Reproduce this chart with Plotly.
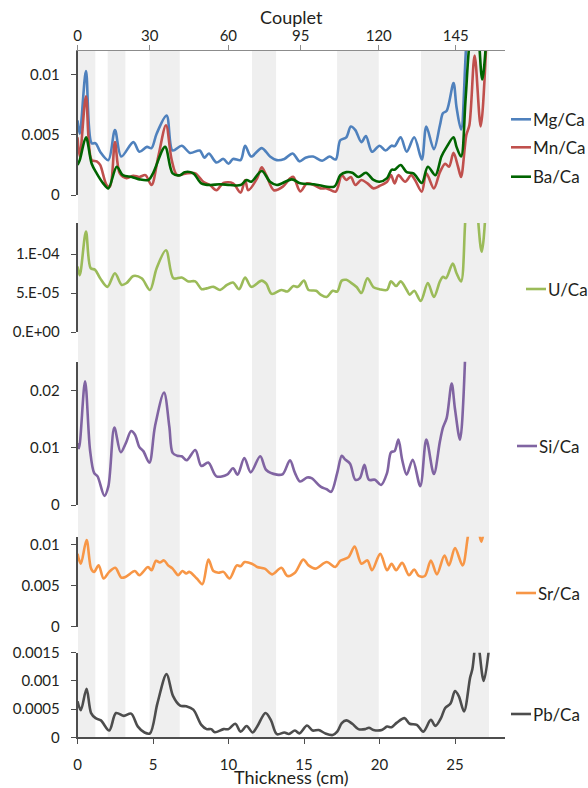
import numpy as np
import plotly.graph_objects as go

# ---------------- data (thickness in cm) ----------------
# Mg/Ca, Mn/Ca, Ba/Ca values in units of 1e-3
mg_x = [0.0, 0.15, 0.56, 0.94, 1.2, 1.5, 2.04, 2.48, 2.9, 3.7, 4.1, 4.6, 4.9, 5.24, 5.9, 6.3, 6.9, 7.45, 8.1, 8.4, 8.7, 9.2, 9.66, 10.0, 10.3, 10.8, 11.1, 11.5, 12.2, 12.75, 13.2, 13.7, 14.25, 14.7, 15.1, 15.6, 16.2, 16.7, 17.1, 17.4, 17.8, 18.1, 18.4, 18.8, 19.1, 19.5, 20.0, 20.4, 20.8, 21.0, 21.4, 21.8, 22.3, 22.8, 23.1, 23.6, 24.0, 24.2, 24.45, 24.9, 25.1, 25.4, 25.77, 26.2, 26.8, 27.1]
mg_y = [6.2, 5.1, 10.3, 4.3, 4.3, 3.6, 2.9, 5.4, 3.2, 4.4, 3.6, 4.0, 3.9, 5.1, 6.6, 3.7, 4.1, 3.5, 3.7, 3.1, 3.45, 2.7, 3.0, 2.6, 3.0, 2.9, 4.1, 3.2, 3.9, 3.2, 2.9, 3.0, 3.45, 2.8, 3.1, 3.2, 2.85, 3.2, 2.95, 4.55, 4.8, 5.7, 5.4, 4.4, 4.9, 3.6, 4.1, 3.7, 4.1, 4.06, 4.8, 3.6, 4.8, 2.95, 5.7, 3.8, 5.8, 6.8, 7.0, 9.3, 7.3, 5.45, 13.0, 18.0, 16.0, 20.0]

mn_x = [0.0, 0.15, 0.56, 0.94, 1.27, 1.5, 1.93, 2.15, 2.48, 2.8, 3.25, 3.7, 4.1, 4.5, 4.9, 5.35, 5.86, 6.24, 6.6, 7.2, 7.8, 8.33, 8.77, 9.2, 9.66, 10.3, 10.8, 11.1, 11.3, 11.9, 12.2, 12.5, 13.0, 13.6, 14.1, 14.3, 14.75, 15.2, 15.65, 16.1, 16.5, 17.1, 17.5, 17.8, 18.1, 18.4, 18.8, 19.2, 19.6, 20.0, 20.5, 20.76, 21.0, 21.25, 21.7, 22.1, 22.35, 22.8, 23.1, 23.6, 24.0, 24.35, 24.6, 24.9, 25.2, 25.4, 25.75, 25.95, 26.3, 26.7, 27.1]
mn_y = [4.8, 3.2, 8.2, 2.9, 2.8, 2.5, 0.83, 0.7, 4.4, 1.8, 1.4, 1.6, 1.5, 1.65, 0.83, 3.2, 5.8, 2.9, 1.65, 1.8, 1.8, 1.1, 0.83, 0.4, 1.0, 0.97, 0.2, 1.25, 0.4, 1.4, 2.3, 1.65, 0.4, 0.7, 1.4, 1.5, 0.3, 0.97, 0.83, 0.55, 0.55, 0.28, 1.65, 1.25, 1.5, 0.83, 1.25, 0.97, 0.55, 0.75, 1.1, 1.65, 0.97, 1.65, 1.1, 1.65, 1.25, 0.28, 1.8, 0.55, 1.9, 2.6, 2.35, 3.5, 2.35, 1.5, 5.0, 5.8, 11.6, 5.7, 13.5]

ba_x = [0.0, 0.15, 0.56, 0.94, 1.27, 1.7, 2.04, 2.6, 3.0, 3.6, 4.1, 4.7, 5.0, 5.8, 6.3, 6.8, 7.1, 7.67, 8.2, 8.8, 9.4, 10.1, 10.8, 11.2, 11.5, 12.2, 12.75, 13.2, 14.2, 14.75, 15.65, 17.0, 17.4, 17.8, 18.2, 18.6, 19.1, 19.6, 20.0, 20.5, 20.8, 21.0, 21.4, 21.8, 22.25, 22.8, 23.2, 23.7, 24.1, 24.45, 24.9, 25.1, 25.4, 25.7, 26.0, 26.4, 26.8, 27.1]
ba_y = [2.5, 2.9, 4.8, 2.6, 1.8, 0.97, 0.55, 2.35, 1.65, 1.5, 1.3, 1.25, 1.8, 4.0, 1.8, 1.65, 1.9, 1.8, 0.97, 0.83, 0.9, 0.83, 0.83, 1.25, 1.1, 2.0, 1.1, 0.83, 1.3, 0.97, 0.9, 0.7, 1.65, 1.9, 1.85, 1.5, 1.85, 1.25, 1.1, 1.4, 2.1, 2.1, 2.5, 1.9, 1.8, 1.0, 2.35, 1.65, 3.2, 4.0, 4.8, 4.0, 3.2, 8.0, 13.0, 15.0, 9.6, 13.5]

# U/Ca values in units of 1e-5
u_x = [0.0, 0.15, 0.56, 0.87, 1.16, 1.5, 1.98, 2.48, 2.93, 3.26, 3.7, 4.25, 4.8, 5.24, 5.86, 6.35, 6.9, 7.34, 7.8, 8.22, 8.55, 9.0, 9.44, 9.9, 10.3, 10.7, 11.1, 11.5, 12.2, 12.5, 12.86, 13.5, 13.9, 14.3, 14.6, 15.0, 15.3, 15.8, 16.1, 16.5, 16.9, 17.2, 17.5, 17.8, 18.1, 18.5, 18.8, 19.2, 19.6, 20.0, 20.5, 20.76, 21.1, 21.4, 21.8, 22.0, 22.3, 22.73, 23.2, 23.6, 24.0, 24.2, 24.4, 24.85, 25.1, 25.4, 25.75, 26.2, 26.76, 27.1]
u_y = [8.4, 7.3, 12.9, 8.2, 8.0, 6.9, 5.8, 7.55, 6.05, 6.3, 7.2, 6.9, 5.4, 8.2, 10.5, 6.9, 7.0, 6.5, 6.5, 5.5, 5.6, 5.8, 5.4, 6.05, 6.35, 5.5, 7.0, 5.8, 6.6, 6.2, 4.9, 5.4, 5.2, 5.9, 5.8, 6.6, 5.4, 5.3, 4.8, 4.5, 5.3, 5.2, 6.6, 6.7, 6.35, 5.75, 5.0, 6.9, 5.75, 5.5, 5.4, 6.5, 5.9, 6.5, 5.4, 4.8, 5.3, 4.0, 6.3, 4.5, 6.5, 7.1, 6.9, 8.8, 7.55, 6.5, 16.0, 20.0, 10.3, 18.0]

# Si/Ca values in units of 1e-3
si_x = [0.0, 0.1, 0.5, 0.83, 1.1, 1.33, 1.78, 2.04, 2.44, 2.86, 3.2, 3.55, 3.8, 4.1, 4.36, 4.76, 5.13, 5.73, 6.08, 6.3, 6.6, 6.9, 7.23, 7.8, 8.2, 8.66, 9.2, 9.9, 10.3, 10.6, 11.05, 11.47, 12.1, 12.5, 13.2, 13.6, 14.07, 14.4, 14.74, 15.2, 15.5, 16.1, 16.5, 16.8, 17.2, 17.5, 17.7, 18.05, 18.4, 18.7, 19.0, 19.3, 19.7, 20.1, 20.5, 20.76, 21.0, 21.25, 21.5, 21.8, 22.2, 22.7, 23.1, 23.6, 24.0, 24.2, 24.45, 24.78, 25.0, 25.33, 25.66]
si_y = [10.8, 9.9, 21.6, 9.6, 5.6, 5.0, 1.6, 3.2, 13.5, 9.2, 10.8, 12.9, 12.3, 10.1, 9.4, 7.4, 13.7, 19.6, 13.7, 9.1, 8.6, 8.5, 7.8, 9.6, 6.8, 7.4, 5.0, 5.3, 6.4, 5.3, 8.2, 5.7, 8.5, 6.1, 5.3, 5.4, 7.8, 5.6, 4.1, 4.8, 4.7, 3.2, 2.75, 2.3, 5.6, 8.6, 8.0, 7.2, 4.4, 4.7, 7.0, 4.4, 4.4, 3.5, 5.6, 9.2, 9.4, 11.4, 7.9, 5.3, 7.9, 3.3, 11.4, 5.4, 11.1, 13.5, 15.2, 21.2, 16.7, 11.4, 25.1]

# Sr/Ca values in units of 1e-3
sr_x = [0.0, 0.22, 0.6, 0.9, 1.1, 1.4, 1.73, 2.1, 2.5, 2.9, 3.2, 3.8, 4.1, 4.67, 4.9, 5.2, 5.45, 5.73, 6.0, 6.3, 6.67, 6.95, 7.2, 7.4, 7.9, 8.27, 8.67, 9.0, 9.33, 9.67, 10.07, 10.55, 10.8, 11.07, 11.55, 11.9, 12.4, 12.9, 13.5, 13.9, 14.4, 14.95, 15.3, 15.75, 16.5, 17.07, 17.4, 17.95, 18.35, 18.8, 19.2, 19.5, 20.05, 20.5, 20.8, 21.1, 21.5, 21.95, 22.3, 22.6, 23.0, 23.4, 23.8, 24.3, 24.6, 25.0, 25.5, 25.9, 26.3, 26.75, 27.0]
sr_y = [8.9, 7.7, 10.6, 7.1, 6.7, 7.5, 5.9, 6.7, 7.2, 6.0, 6.1, 6.8, 6.3, 7.3, 6.9, 8.05, 7.85, 8.1, 7.5, 7.1, 6.3, 6.8, 6.5, 6.7, 5.9, 5.2, 8.2, 6.8, 6.6, 6.7, 5.9, 7.5, 7.4, 7.9, 7.7, 7.3, 7.1, 6.4, 7.2, 6.2, 6.6, 8.2, 7.5, 7.1, 7.9, 7.3, 8.05, 8.5, 9.8, 7.7, 8.1, 6.9, 8.9, 6.9, 7.7, 6.9, 7.8, 6.3, 7.0, 6.2, 6.2, 8.1, 6.4, 8.7, 7.5, 9.6, 7.5, 11.5, 14.0, 10.4, 13.0]

# Pb/Ca values in units of 1e-4
pb_x = [0.0, 0.22, 0.6, 0.9, 1.2, 1.55, 2.1, 2.55, 3.07, 3.55, 4.0, 4.44, 4.8, 5.3, 5.9, 6.33, 6.8, 7.2, 7.67, 8.2, 8.55, 8.85, 9.1, 9.67, 10.0, 10.45, 10.8, 11.2, 11.6, 11.9, 12.45, 12.8, 13.2, 13.7, 14.0, 14.4, 14.7, 15.2, 15.57, 15.97, 16.4, 16.9, 17.2, 17.5, 17.8, 18.2, 18.6, 19.05, 19.3, 19.6, 20.15, 20.5, 20.8, 21.15, 21.65, 22.0, 22.47, 22.9, 23.4, 23.7, 24.07, 24.35, 24.7, 25.0, 25.25, 25.6, 26.0, 26.15, 26.45, 26.9, 27.3]
pb_y = [6.4, 4.8, 8.6, 4.3, 3.4, 3.0, 1.2, 4.3, 3.8, 4.2, 1.9, 0.85, 0.7, 6.1, 11.2, 7.3, 5.6, 5.5, 4.9, 2.2, 1.45, 1.45, 0.9, 1.45, 1.45, 2.4, 1.0, 2.0, 0.85, 1.9, 4.3, 3.1, 0.55, 0.85, 0.6, 1.2, 0.7, 2.1, 1.2, 1.3, 0.7, 0.4, 1.0, 2.5, 3.0, 2.4, 1.45, 1.45, 1.7, 1.3, 1.3, 1.9, 1.8, 2.6, 3.4, 2.4, 2.2, 1.0, 3.1, 2.0, 3.4, 5.2, 6.0, 8.2, 7.3, 4.6, 10.6, 12.1, 18.0, 10.0, 17.0]

# couplet (top axis) labels and their thickness positions
couplet_labels = ["0", "30", "60", "95", "120", "145"]
couplet_pos = [0.0, 4.78, 9.99, 14.78, 19.95, 25.05]

# shaded intervals (cm)
band_start = [0.03, 2.0, 4.78, 11.56, 17.19, 22.75]
band_end = [1.18, 3.17, 6.77, 13.15, 19.95, 27.25]

# y tick values/labels
p1_ticks = [0, 0.005, 0.01]
p1_text = ["0", "0.005", "0.01"]
p2_ticks = [0, 5e-5, 1e-4]
p2_text = ["0.E+00", "5.E-05", "1.E-04"]
p3_ticks = [0, 0.01, 0.02]
p3_text = ["0", "0.01", "0.02"]
p4_ticks = [0, 0.005, 0.01]
p4_text = ["0", "0.005", "0.01"]
p5_ticks = [0, 0.0005, 0.001, 0.0015]
p5_text = ["0", "0.0005", "0.001", "0.0015"]
x_ticks = [0, 5, 10, 15, 20, 25]

# ---------------- figure ----------------
W, H = 588, 788
FONT = "Lato"
TXT = "#231f20"
AX = "#4d4d4d"

def px(x):
    return x / W

def py(y):
    return 1 - y / H

XR = [0, 28.31]
XDOM = [px(77.5), px(505)]

series = [
    ("Mg/Ca", mg_x, np.array(mg_y) * 1e-3, "#4f81bd", "x", "y"),
    ("Mn/Ca", mn_x, np.array(mn_y) * 1e-3, "#c0504d", "x", "y"),
    ("Ba/Ca", ba_x, np.array(ba_y) * 1e-3, "#006400", "x", "y"),
    ("U/Ca", u_x, np.array(u_y) * 1e-5, "#9bbb59", "x2", "y2"),
    ("Si/Ca", si_x, np.array(si_y) * 1e-3, "#8064a2", "x3", "y3"),
    ("Sr/Ca", sr_x, np.array(sr_y) * 1e-3, "#f79646", "x4", "y4"),
    ("Pb/Ca", pb_x, np.array(pb_y) * 1e-4, "#4d4d4d", "x5", "y5"),
]

fig = go.Figure()
for name, xs, ys, col, xa, ya in series:
    fig.add_trace(go.Scatter(
        x=xs, y=ys, mode="lines", name=name, xaxis=xa, yaxis=ya,
        line=dict(color=col, width=2.6, shape="spline", smoothing=0.9),
        showlegend=False, hoverinfo="skip"))

# dummy traces carrying the couplet axes (tick marks / tick labels)
for xa in ("x6", "x7"):
    fig.add_trace(go.Scatter(x=couplet_pos, y=[None] * len(couplet_pos), xaxis=xa, yaxis="y",
                             mode="markers", showlegend=False, hoverinfo="skip"))

panels = [  # (y top px, y bottom px, range, ticks, text)
    (50.7, 195.0, [0, 0.012], p1_ticks, p1_text),
    (223.0, 332.0, [0, 1.4e-4], p2_ticks, p2_text),
    (361.7, 505.0, [0, 0.025], p3_ticks, p3_text),
    (536.7, 626.7, [0, 0.011], p4_ticks, p4_text),
    (652.7, 737.3, [0, 0.0015], p5_ticks, p5_text),
]

layout = dict(
    width=W, height=H, margin=dict(l=0, r=0, t=0, b=0, autoexpand=False),
    paper_bgcolor="white", plot_bgcolor="rgba(0,0,0,0)",
    font=dict(family=FONT, size=15, color=TXT),
    showlegend=False,
)

for i, (yt, yb, rng, tv, tt) in enumerate(panels, start=1):
    sfx = "" if i == 1 else str(i)
    layout["yaxis" + sfx] = dict(
        domain=[py(yb), py(yt)], range=rng, anchor="x" + sfx,
        tickvals=tv, ticktext=tt, ticks="outside", ticklen=5, tickwidth=1.3,
        tickcolor=AX, showline=True, linecolor=AX, linewidth=1.5,
        showgrid=False, zeroline=False, ticklabelstandoff=8, automargin=False,
        tickfont=dict(family=FONT, size=15, color=TXT), fixedrange=True)
    xd = dict(domain=XDOM, range=XR, anchor="y" + sfx, showgrid=False,
              zeroline=False, fixedrange=True, automargin=False)
    if i < 5:
        xd["visible"] = False
    else:
        xd.update(tickvals=x_ticks, ticks="outside", ticklen=5, tickwidth=1.3,
                  tickcolor=AX, showline=True, linecolor=AX, linewidth=1.5,
                  tickfont=dict(family=FONT, size=15, color=TXT),
                  ticklabelstandoff=8,
                  title=dict(text="Thickness (cm)", standoff=4,
                             font=dict(family=FONT, size=18, color=TXT)))
    layout["xaxis" + sfx] = xd

# top axis: line, tick marks and title
layout["xaxis6"] = dict(
    overlaying="x", side="top", anchor="y", range=XR, domain=XDOM,
    tickvals=couplet_pos, ticks="outside", ticklen=5, showticklabels=False,
    tickwidth=1.2, tickcolor="#8c8c8c", showline=True, linecolor="#8c8c8c",
    linewidth=1.3, showgrid=False, zeroline=False, fixedrange=True, automargin=False,
    title=dict(text="Couplet", standoff=15, font=dict(family=FONT, size=18, color=TXT)))
# top axis: tick labels
layout["xaxis7"] = dict(
    overlaying="x", side="top", anchor="y", range=XR, domain=XDOM,
    tickvals=couplet_pos, ticktext=couplet_labels, ticks="", showline=False,
    showgrid=False, zeroline=False, fixedrange=True, automargin=False,
    tickfont=dict(family=FONT, size=15, color=TXT), ticklabelstandoff=6)

shapes = []
for a, b in zip(band_start, band_end):
    shapes.append(dict(type="rect", xref="x", yref="paper", x0=a, x1=b,
                       y0=py(737.3), y1=py(50.7), fillcolor="#efefef",
                       line=dict(width=0), layer="below"))

# legend entries (line + label) beside each panel
legend_items = [
    ("Mg/Ca", "#4f81bd", 511, 531, 119.3),
    ("Mn/Ca", "#c0504d", 511, 531, 147.3),
    ("Ba/Ca", "#006400", 511, 531, 176.7),
    ("U/Ca", "#9bbb59", 526, 546, 289.0),
    ("Si/Ca", "#8064a2", 517, 537, 446.0),
    ("Sr/Ca", "#f79646", 516, 536, 593.0),
    ("Pb/Ca", "#4d4d4d", 511, 531, 714.0),
]
annotations = []
for name, col, x0, x1, y in legend_items:
    shapes.append(dict(type="line", xref="paper", yref="paper",
                       x0=px(x0), x1=px(x1), y0=py(y), y1=py(y),
                       line=dict(color=col, width=2.6)))
    annotations.append(dict(text=name, xref="paper", yref="paper",
                            x=px(x1), y=py(y), xanchor="left", yanchor="middle",
                            showarrow=False, xshift=0,
                            font=dict(family=FONT, size=17, color=TXT)))

layout["shapes"] = shapes
layout["annotations"] = annotations
fig.update_layout(**layout)

fig.write_html("out.html", config={"displayModeBar": False},
               post_script="document.body.style.margin='0';document.body.style.overflow='hidden';")
